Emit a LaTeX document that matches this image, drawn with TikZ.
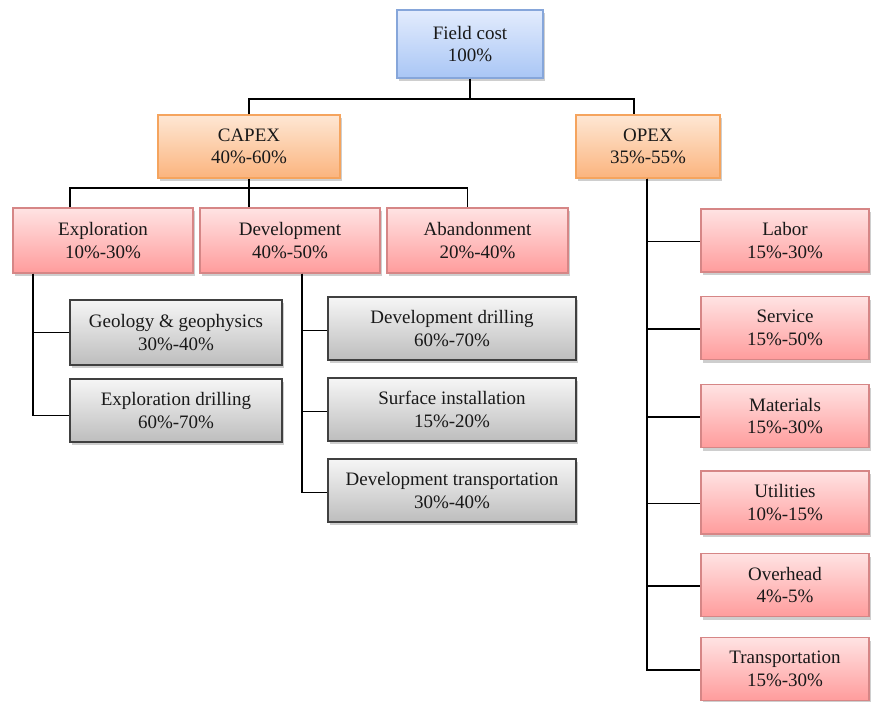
\documentclass[tikz,border=0pt]{standalone}
\usepackage{fontspec}
\setmainfont{Liberation Serif}
\usetikzlibrary{shadows}
\definecolor{bleuhaut}{HTML}{E3ECFD}
\definecolor{bleubas}{HTML}{A9C6F5}
\definecolor{bleubord}{HTML}{86A6DA}
\definecolor{orangehaut}{HTML}{FEE7D4}
\definecolor{orangebas}{HTML}{FBB47E}
\definecolor{orangebord}{HTML}{F5A45E}
\definecolor{rosehaut}{HTML}{FFE3E3}
\definecolor{rosebas}{HTML}{FF9C9C}
\definecolor{rosebord}{HTML}{D68686}
\definecolor{grishaut}{HTML}{F6F6F6}
\definecolor{grisbas}{HTML}{BDBDBD}
\definecolor{grisbord}{HTML}{404040}
\tikzset{
  boite/.style={draw, line width=1.1pt, inner sep=0pt, align=center,
    minimum height=63pt, text=black!90,
    font=\fontsize{19}{22.5}\selectfont,
    drop shadow={shadow xshift=2pt, shadow yshift=-3pt, opacity=0.35, fill=black!55}},
  bleue/.style={boite, draw=bleubord, top color=bleuhaut, bottom color=bleubas},
  orangee/.style={boite, draw=orangebord, top color=orangehaut, bottom color=orangebas},
  rose/.style={boite, draw=rosebord, top color=rosehaut, bottom color=rosebas},
  grise/.style={boite, draw=grisbord, top color=grishaut, bottom color=grisbas},
  lien/.style={line width=1.8pt, black}
}
\begin{document}
\begin{tikzpicture}[x=1pt,y=-1pt]
  \useasboundingbox (0,0) rectangle (871,702);
  % Niveau 1
  \node[bleue, minimum width=146pt, minimum height=68pt] (field) at (470,44) {Field cost\\100\%};
  % Niveau 2
  \node[orangee, minimum width=182pt] (capex) at (249,146.5) {CAPEX\\40\%-60\%};
  \node[orangee, minimum width=144pt] (opex) at (648,146.5) {OPEX\\35\%-55\%};
  % Niveau 3
  \node[rose, minimum width=180pt, minimum height=65pt] (explo) at (103,240.5) {Exploration\\10\%-30\%};
  \node[rose, minimum width=180pt, minimum height=65pt] (devel) at (290,240.5) {Development\\40\%-50\%};
  \node[rose, minimum width=181pt, minimum height=65pt] (aband) at (477.5,240.5) {Abandonment\\20\%-40\%};
  % Exploration
  \node[grise, minimum width=212pt, minimum height=65pt] (geo) at (176,332.5) {Geology \& geophysics\\30\%-40\%};
  \node[grise, minimum width=212pt] (exdrill) at (176,410.5) {Exploration drilling\\60\%-70\%};
  % Development
  \node[grise, minimum width=248pt] (devdrill) at (452,328.5) {Development drilling\\60\%-70\%};
  \node[grise, minimum width=248pt] (surf) at (452,409.5) {Surface installation\\15\%-20\%};
  \node[grise, minimum width=248pt] (devtrans) at (452,490.5) {Development transportation\\30\%-40\%};
  % OPEX
  \foreach \nom/\titre/\pct/\y in {labor/Labor/15\%-30\%/240.5, service/Service/15\%-50\%/328,
      materials/Materials/15\%-30\%/416, utilities/Utilities/10\%-15\%/502.5,
      overhead/Overhead/4\%-5\%/585, transp/Transportation/15\%-30\%/669}
    \node[rose, minimum width=168pt] (\nom) at (785,\y) {\titre\\\pct};
  % Liens
  \coordinate (bus1) at (470,99);
  \coordinate (bus2) at (249,188);
  \draw[lien] (field.south) -- (bus1);
  \draw[lien] (capex.north) |- (bus1) -| ([xshift=-14pt]opex.north);
  \draw[lien] (capex.south) -- ([xshift=-41pt]devel.north);
  \draw[lien] ([xshift=-33pt]explo.north) |- (bus2) -| ([xshift=-10pt]aband.north);
  \draw[lien] ([xshift=-70pt]explo.south) |- (geo.west);
  \draw[lien] ([xshift=-70pt]explo.south) |- ([yshift=-5pt]exdrill.west);
  \foreach \b in {devdrill,surf,devtrans}
    \draw[lien] ([xshift=12pt]devel.south) |- ([yshift=-2pt]\b.west);
  \foreach \b in {labor,service,materials,utilities,overhead,transp}
    \draw[lien] ([xshift=-1pt]opex.south) |- ([yshift=-1pt]\b.west);
\end{tikzpicture}
\end{document}
